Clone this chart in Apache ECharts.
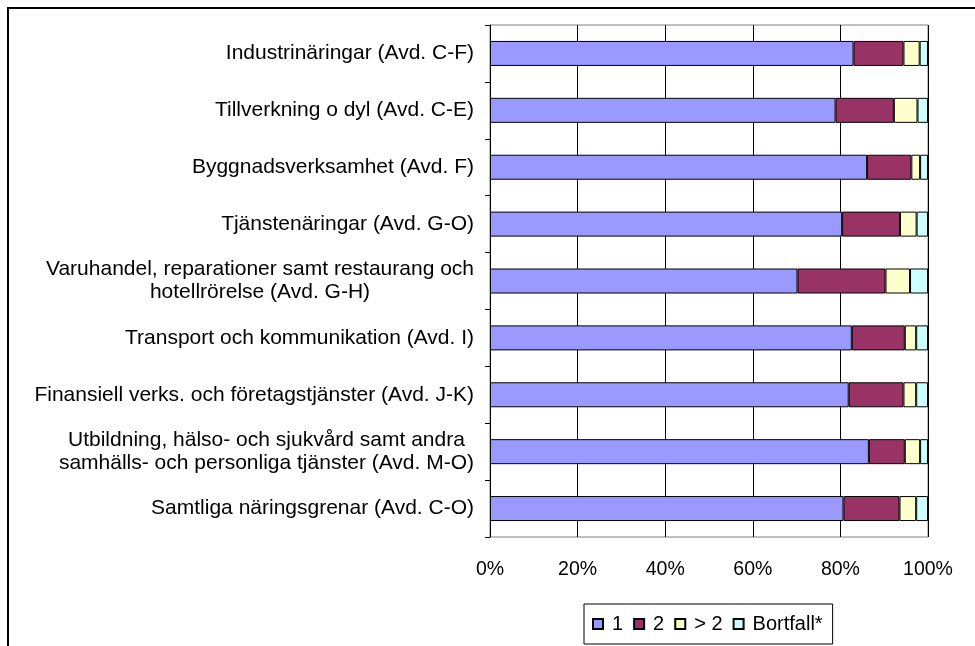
<!DOCTYPE html>
<html>
<head>
<meta charset="utf-8">
<title>Antal arbetsställen per företag</title>
<script src="https://cdn.jsdelivr.net/npm/echarts@6/dist/echarts.min.js"></script>
<style>
  html, body { margin: 0; padding: 0; background: #fff; }
  #chart { width: 975px; height: 646px; }
</style>
</head>
<body>
<div id="chart"></div>
<script>
// kategorier (uppifrån och ned)
const categories = [
  'Industrinäringar (Avd. C-F)',
  'Tillverkning o dyl (Avd. C-E)',
  'Byggnadsverksamhet (Avd. F)',
  'Tjänstenäringar (Avd. G-O)',
  'Varuhandel, reparationer samt restaurang och\nhotellrörelse (Avd. G-H)',
  'Transport och kommunikation (Avd. I)',
  'Finansiell verks. och företagstjänster (Avd. J-K)',
  'Utbildning, hälso- och sjukvård samt andra\nsamhälls- och personliga tjänster (Avd. M-O)',
  'Samtliga näringsgrenar (Avd. C-O)'
]
const seriesNames = ['1', '2', '> 2', 'Bortfall*']
// andelar i procent
const one = [83.0, 78.9, 86.1, 80.4, 70.2, 82.6, 81.9, 86.5, 80.7]
const two = [11.4, 13.3, 10.1, 13.2, 20.1, 12.1, 12.5, 8.2, 12.8]
const moreThanTwo = [3.7, 5.4, 2.0, 3.8, 5.6, 2.6, 2.9, 3.5, 3.8]
const dropout = [1.9, 2.4, 1.8, 2.6, 4.1, 2.7, 2.7, 1.8, 2.7]
const xTicks = [0, 20, 40, 60, 80, 100]

const colors = ['#9999ff', '#993366', '#ffffcc', '#ccffff']
const font = '"Liberation Sans", Arial, sans-serif'

const chart = echarts.init(document.getElementById('chart'), null, { renderer: 'canvas' })

const seriesData = [one, two, moreThanTwo, dropout]

const option = {
  animation: false,
  backgroundColor: '#fff',
  textStyle: { fontFamily: font, color: '#000' },
  // ram runt diagrammet (vänster + överkant)
  graphic: [
    {
      type: 'rect',
      silent: true,
      shape: { x: 8, y: 8, width: 1200, height: 1200 },
      style: { fill: 'none', stroke: '#000', lineWidth: 2 }
    }
  ],
  grid: {
    left: 490,
    right: 47,
    top: 25,
    bottom: 109,
    show: true,
    borderColor: '#808080',
    borderWidth: 1
  },
  legend: {
    left: 584,
    top: 604,
    data: seriesNames,
    icon: 'rect',
    itemWidth: 10,
    itemHeight: 10,
    itemGap: 10,
    padding: [10, 10, 10, 8],
    borderColor: '#000',
    borderWidth: 1,
    textStyle: { fontFamily: font, fontSize: 20, color: '#000', padding: [0, 0, 0, 4] }
  },
  xAxis: {
    type: 'value',
    min: xTicks[0],
    max: xTicks[xTicks.length - 1],
    interval: 20,
    axisLine: { show: false },
    axisTick: { show: false },
    splitLine: { show: true, lineStyle: { color: '#000', width: 1 } },
    axisLabel: {
      formatter: '{value}%',
      fontFamily: font,
      fontSize: 19.5,
      color: '#000',
      margin: 23
    }
  },
  yAxis: {
    type: 'category',
    inverse: true,
    data: categories,
    axisLine: { show: true, lineStyle: { color: '#000', width: 1 } },
    axisTick: { show: true, length: 5, lineStyle: { color: '#000' } },
    axisLabel: {
      margin: 16,
      fontFamily: font,
      fontSize: 21,
      color: '#000',
      lineHeight: 23,
      formatter: (value) => {
        if (value.indexOf('\n') === -1) return value
        // tvåradiga etiketter centreras radvis
        return value.split('\n').map((line) => '{c|' + line + '}').join('\n')
      },
      rich: {
        c: { align: 'center', fontFamily: font, fontSize: 21, color: '#000', lineHeight: 23 }
      }
    }
  },
  series: seriesNames.map((name, i) => {
    return {
      name: name,
      type: 'bar',
      stack: 'total',
      barWidth: 25,
      data: seriesData[i],
      itemStyle: { color: colors[i], borderColor: '#000', borderWidth: 1 }
    }
  })
}

chart.setOption(option)
</script>
</body>
</html>
